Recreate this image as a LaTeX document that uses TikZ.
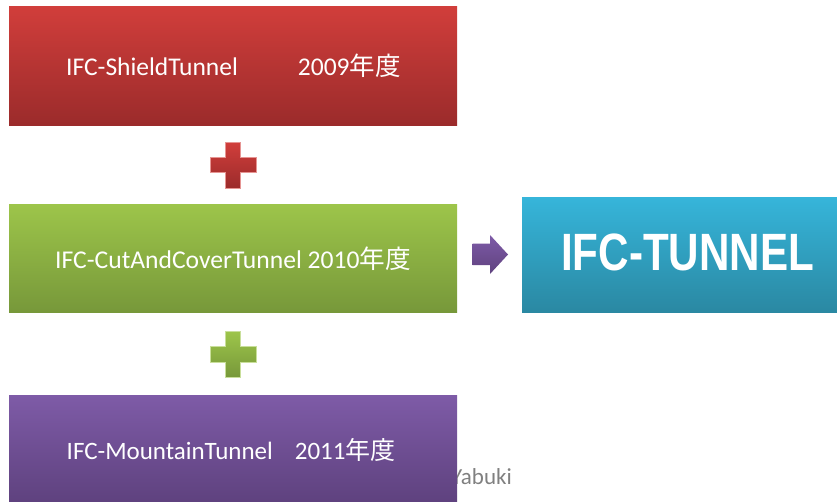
\documentclass[tikz,border=0pt]{standalone}
\usepackage{fontspec}
\setmainfont{Carlito}
\newfontfamily\jp{Noto Sans CJK JP}
\newfontfamily\bigsans{Liberation Sans}
\definecolor{redT}{HTML}{D13E3B}
\definecolor{redB}{HTML}{9B2B2B}
\definecolor{grnT}{HTML}{9DC54A}
\definecolor{grnB}{HTML}{77983A}
\definecolor{purT}{HTML}{7E5BA7}
\definecolor{purB}{HTML}{5F427F}
\definecolor{bluT}{HTML}{36B5DA}
\definecolor{bluB}{HTML}{2A88A2}
\tikzset{
  panel/.style={rectangle, inner sep=0pt, outer sep=0pt, draw=none},
  paneltext/.style={anchor=base west, inner sep=0pt, text=white, font=\fontsize{25.5}{30}\selectfont},
}
\begin{document}
\begin{tikzpicture}[x=1pt,y=-1pt]
\useasboundingbox (0,0) rectangle (837,501);
% Yabuki text (partly under the purple box)
\node[anchor=base west, inner sep=0pt, text=black!50, font=\fontsize{23}{27}\selectfont] (yab) at (451,484) {Yabuki};
% panels
\node[panel, minimum width=448pt, minimum height=119pt, top color=redT, bottom color=redB] (red) at (233,65.5) {};
\node[panel, minimum width=448pt, minimum height=108pt, top color=grnT, bottom color=grnB] (grn) at (233,258) {};
\node[panel, minimum width=448pt, minimum height=106pt, top color=purT, bottom color=purB] (pur) at (233,448) {};
\node[panel, minimum width=315pt, minimum height=115pt, top color=bluT, bottom color=bluB] (blu) at (679.5,255) {};
% texts
\node[paneltext] (tred) at (66,75) {IFC-ShieldTunnel\hspace{60pt}2009{\jp 年度}};
\node[paneltext, font=\fontsize{25.6}{30}\selectfont] (tgrn) at (55,268) {IFC-CutAndCoverTunnel 2010{\jp 年度}};
\node[paneltext, font=\fontsize{25}{30}\selectfont] (tpur) at (66.5,459) {IFC-MountainTunnel\hspace{22pt}2011{\jp 年度}};
\node[anchor=base west, inner sep=0pt, text=white, font=\bigsans\bfseries\fontsize{52.5}{60}\selectfont] (tblu) at (561,270.5) {\scalebox{0.803}[1]{IFC-TUNNEL}};
% plus signs
\shade[top color=redT, bottom color=redB, draw=redT!55!white, line width=0.8pt]
  (225.7,142) -- (240.7,142) -- (240.7,157.3) -- (256.7,157.3) -- (256.7,172.7) -- (240.7,172.7)
  -- (240.7,188.3) -- (225.7,188.3) -- (225.7,172.7) -- (210,172.7) -- (210,157.3) -- (225.7,157.3) -- cycle;
\shade[top color=grnT, bottom color=grnB, draw=grnT!55!white, line width=0.8pt]
  (225.7,331.3) -- (240.7,331.3) -- (240.7,346.7) -- (256.7,346.7) -- (256.7,362.3) -- (240.7,362.3)
  -- (240.7,377.7) -- (225.7,377.7) -- (225.7,362.3) -- (210,362.3) -- (210,346.7) -- (225.7,346.7) -- cycle;
% arrow
\shade[top color=purT, bottom color=purB]
  (472.5,243.5) -- (490,243.5) -- (490,235) -- (508,254.5) -- (490,274) -- (490,265) -- (472.5,265) -- cycle;
\end{tikzpicture}
\end{document}
